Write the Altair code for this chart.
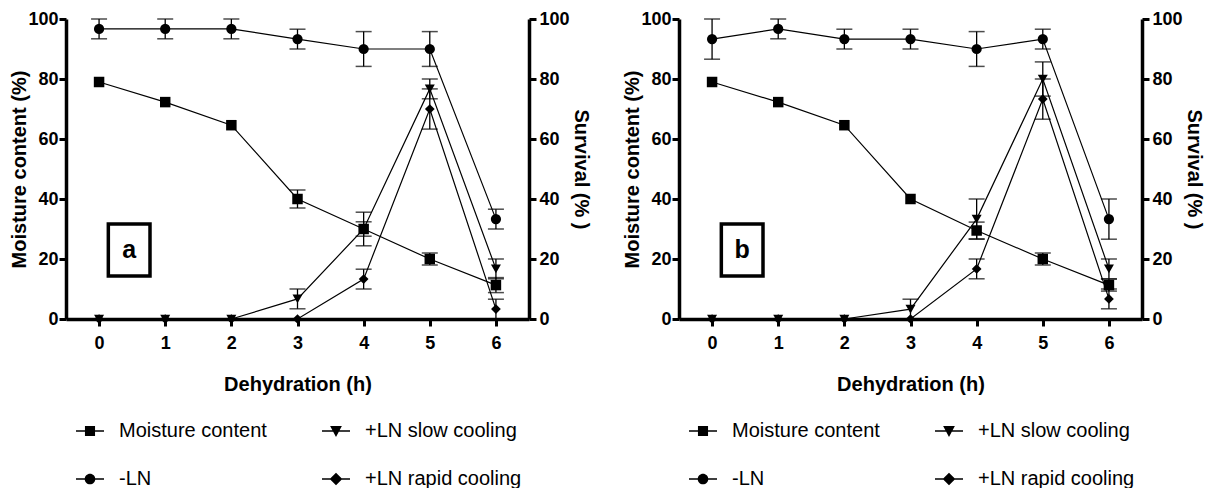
import altair as alt
import pandas as pd

hours = [0, 1, 2, 3, 4, 5, 6]
series_names = ["Moisture content", "-LN", "+LN slow cooling", "+LN rapid cooling"]

# Panel a
a_moisture = [79, 72.3, 64.6, 40, 30, 20, 11.3]
a_moisture_err = [0, 0, 0, 3, 2.4, 2, 2.5]
a_minus_ln = [96.7, 96.7, 96.7, 93.3, 90, 90, 33.3]
a_minus_ln_err = [3.3, 3.3, 3.3, 3.3, 5.8, 5.8, 3.3]
a_slow = [0, 0, 0, 6.7, 30, 76.7, 16.7]
a_slow_err = [0, 0, 0, 3.3, 5.6, 3.3, 3.3]
a_rapid = [0, 0, 0, 0, 13.3, 70, 3.3]
a_rapid_err = [0, 0, 0, 0, 3.3, 6.7, 3.3]

# Panel b
b_moisture = [79, 72.3, 64.6, 40, 29.5, 20, 11.3]
b_moisture_err = [0, 0, 0, 0, 2.8, 2, 2]
b_minus_ln = [93.3, 96.7, 93.3, 93.3, 90, 93.3, 33.3]
b_minus_ln_err = [6.7, 3.3, 3.3, 3.3, 5.8, 3.3, 6.7]
b_slow = [0, 0, 0, 3.3, 33.3, 80, 16.7]
b_slow_err = [0, 0, 0, 3.3, 6.7, 5.7, 3.3]
b_rapid = [0, 0, 0, 0, 16.7, 73.3, 6.7]
b_rapid_err = [0, 0, 0, 0, 3.3, 6.7, 3.3]

# annotation boxes (data coordinates)
box_x = [0.14, 0.77]
box_y = [14.3, 31.7]
panel_letters = ["a", "b"]

FONT = "Liberation Sans"
X_DOMAIN = [-0.5, 6.5]
Y_DOMAIN = [0, 100]

shape_std = ["square", "circle", "triangle-down", "diamond"]
size_std = [110, 95, 115, 120]
stick = "M-1,-0.06H1V0.06H-1Z"
shape_legend = [
    stick + "M-0.36,-0.36H0.36V0.36H-0.36Z",
    stick + ("M0.38,0A0.38,0.38 0 0,1 0,0.38A0.38,0.38 0 0,1 -0.38,0"
             "A0.38,0.38 0 0,1 0,-0.38A0.38,0.38 0 0,1 0.38,0Z"),
    stick + "M-0.42,-0.36L0.42,-0.36L0,0.42Z",
    stick + "M0,-0.45L0.45,0L0,0.45L-0.45,0Z",
]


def make_df(values):
    rows = []
    # drawing order: rapid, slow, -LN, moisture (moisture on top)
    for name in ["+LN rapid cooling", "+LN slow cooling", "-LN", "Moisture content"]:
        vals, errs = values[name]
        for h, v, e in zip(hours, vals, errs):
            rows.append({"series": name, "hour": h, "value": v, "err": e,
                         "lo": v - e, "hi": v + e})
    return pd.DataFrame(rows)


def xenc(field):
    return alt.X(f"{field}:Q", scale=alt.Scale(domain=X_DOMAIN, nice=False, zero=False),
                 axis=alt.Axis(values=hours, title="Dehydration (h)", format="d"))


def yenc(field, axis=None):
    if axis is None:
        return alt.Y(f"{field}:Q", scale=alt.Scale(domain=Y_DOMAIN, nice=False), axis=None)
    return alt.Y(f"{field}:Q", scale=alt.Scale(domain=Y_DOMAIN, nice=False), axis=axis)


def panel(df, letter):
    base = alt.Chart(df)
    left_axis = alt.Axis(values=[0, 20, 40, 60, 80, 100], title="Moisture content (%)",
                         orient="left")
    right_axis = alt.Axis(values=[0, 20, 40, 60, 80, 100], title="Survival (% )",
                          orient="right")
    lines = base.mark_line(color="black", strokeWidth=1.2).encode(
        x=xenc("hour"), y=yenc("value", left_axis), detail="series:N")
    errs = base.transform_filter("datum.err > 0")
    rules = errs.mark_rule(color="black", strokeWidth=1.3).encode(
        x=xenc("hour"), y=yenc("lo"), y2="hi:Q")
    cap_lo = errs.mark_tick(color="black", orient="horizontal", size=16, thickness=1.5).encode(
        x=xenc("hour"), y=yenc("lo"))
    cap_hi = errs.mark_tick(color="black", orient="horizontal", size=16, thickness=1.5).encode(
        x=xenc("hour"), y=yenc("hi"))
    points = base.mark_point(filled=True, color="black", opacity=1).encode(
        x=xenc("hour"), y=yenc("value"),
        shape=alt.Shape("series:N", scale=alt.Scale(domain=series_names, range=shape_std), legend=None),
        size=alt.Size("series:N", scale=alt.Scale(domain=series_names, range=size_std), legend=None))
    legend_layer = base.transform_filter("datum.hour < -10").mark_point(
        filled=True, color="black", opacity=1).encode(
        x=xenc("hour"), y=yenc("value"),
        shape=alt.Shape("series:N", scale=alt.Scale(domain=series_names, range=shape_legend),
                        legend=alt.Legend(title=None, orient="none", legendX=10, legendY=398,
                                          columns=2, symbolSize=784, labelFont=FONT,
                                          labelFontSize=20, labelColor="black",
                                          labelOffset=15, columnPadding=55, rowPadding=24,
                                          padding=0, symbolFillColor="black",
                                          symbolStrokeWidth=0, labelLimit=400)))
    right = base.transform_filter("datum.hour < -10").mark_point(opacity=0).encode(
        x=xenc("hour"), y=yenc("value", right_axis))
    box_df = pd.DataFrame({"x1": [box_x[0]], "x2": [box_x[1]], "y1": [box_y[0]],
                           "y2": [box_y[1]], "label": [letter],
                           "xc": [(box_x[0] + box_x[1]) / 2], "yc": [(box_y[0] + box_y[1]) / 2]})
    box = alt.Chart(box_df).mark_rect(fill="white", stroke="black", strokeWidth=3.5).encode(
        x=xenc("x1"), x2="x2:Q", y=yenc("y1"), y2="y2:Q")
    txt = alt.Chart(box_df).mark_text(font=FONT, fontSize=25, fontWeight="bold",
                                      color="black", baseline="middle").encode(
        x=xenc("xc"), y=yenc("yc"), text="label:N")
    return alt.layer(lines, rules, cap_lo, cap_hi, points, legend_layer, right, box, txt).resolve_scale(
        y="independent", shape="independent", size="independent"
    ).properties(width=463, height=300)


df_a = make_df({
    "Moisture content": (a_moisture, a_moisture_err),
    "-LN": (a_minus_ln, a_minus_ln_err),
    "+LN slow cooling": (a_slow, a_slow_err),
    "+LN rapid cooling": (a_rapid, a_rapid_err),
})
df_b = make_df({
    "Moisture content": (b_moisture, b_moisture_err),
    "-LN": (b_minus_ln, b_minus_ln_err),
    "+LN slow cooling": (b_slow, b_slow_err),
    "+LN rapid cooling": (b_rapid, b_rapid_err),
})

chart = alt.hconcat(panel(df_a, panel_letters[0]), panel(df_b, panel_letters[1]), spacing=31).resolve_scale(
    shape="independent", size="independent").resolve_legend(shape="independent").properties(
    padding={"left": 9, "top": 10, "right": 6, "bottom": 0}, background="white"
).configure_view(stroke=None).configure_axis(
    domainColor="black", domainWidth=3.5, tickColor="black", tickWidth=3, tickSize=7,
    labelFont=FONT, labelFontSize=18, labelFontWeight="bold", labelColor="black",
    titleFont=FONT, titleFontSize=20, titleFontWeight="bold", titleColor="black",
    grid=False, labelPadding=3, labelFlush=False, labelOverlap=False
).configure_axisBottom(titlePadding=22, labelPadding=8).configure_axisLeft(
    titlePadding=-2, labelPadding=1).configure_axisRight(titlePadding=1)

chart.save("out.html", embed_options={"renderer": "svg", "actions": False})
